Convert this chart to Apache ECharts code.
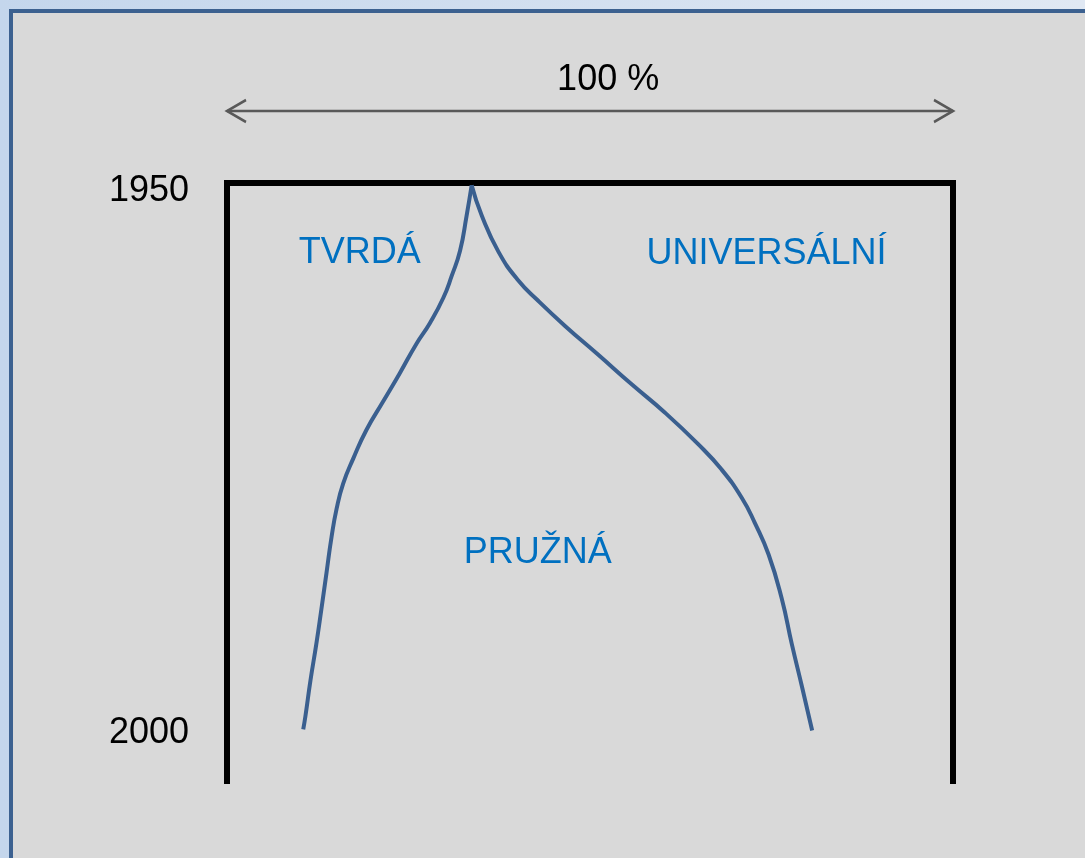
<!DOCTYPE html>
<html>
<head>
<meta charset="utf-8">
<title>Tvrdá / pružná / universální</title>
<script src="https://cdn.jsdelivr.net/npm/echarts/dist/echarts.min.js"></script>
<style>
  html, body {
    margin: 0;
    padding: 0;
    width: 1085px;
    height: 858px;
    overflow: hidden;
    background: linear-gradient(to right, #c4d6ec, #e0e8f3);
  }
  .frame {
    position: absolute;
    left: 9px;
    top: 9px;
    width: 1100px;
    height: 880px;
    background: #d9d9d9;
    border-left: 4px solid #3c6190;
    border-top: 4px solid #3c6190;
  }
  #chart {
    position: absolute;
    left: 0;
    top: 0;
    width: 1085px;
    height: 858px;
  }
</style>
</head>
<body>
<div class="frame"></div>
<div id="chart"></div>
<script>
// hranice tvrdá / pružná (podíl v %, rok)
const leftPct = [33.7, 33.0, 32.1, 30.95, 29.8, 27.96, 26.1, 23.8, 21.5, 19.2, 17.4, 16.0, 15.1, 14.4, 13.7, 13.0, 12.3, 11.5, 10.8, 10.5]
const leftYear = [1950.2, 1953.0, 1956.2, 1958.5, 1960.5, 1962.8, 1964.7, 1967.4, 1970.0, 1972.6, 1975.2, 1977.5, 1979.8, 1982.4, 1985.7, 1989.0, 1992.2, 1995.5, 1998.8, 2000.0]

// hranice pružná / universální
const rightPct = [33.7, 35.1, 37.4, 40.1, 42.9, 46.6, 51.1, 55.7, 60.3, 64.9, 68.1, 70.9, 72.7, 74.6, 76.4, 77.8, 79.2, 80.6]
const rightYear = [1950.2, 1953.0, 1956.3, 1958.9, 1960.8, 1963.1, 1965.7, 1968.4, 1971.0, 1973.9, 1976.2, 1978.8, 1981.1, 1984.0, 1988.0, 1992.2, 1996.1, 2000.1]

// rám 0–100 %
const framePct = [0, 0, 100, 100]
const frameYear = [2005, 1950, 1950, 2005]

// šipka 100 %
const arrowPct = [0, 100]
const arrowYear = [1943.4, 1943.4]

// popisky
const labelNames = ['100 %', 'TVRDÁ', 'UNIVERSÁLNÍ', 'PRUŽNÁ']
const labelPct = [52.5, 18.3, 74.3, 42.8]
const labelYear = [1940.6, 1956.4, 1956.5, 1983.9]
const labelColors = ['#000000', '#0070c0', '#0070c0', '#0070c0']

const yearTicks = [1950, 2000]

const font = 'Arial, "Liberation Sans", sans-serif'

let myChart = echarts.init(document.getElementById('chart'))

const pairs = (xs, ys) => xs.map((x, i) => [x, ys[i]])

const option = {
  animation: false,
  backgroundColor: 'transparent',
  grid: {
    left: 227,
    right: 132,
    top: 41,
    bottom: 74
  },
  xAxis: {
    type: 'value',
    min: 0,
    max: 100,
    show: false
  },
  yAxis: {
    type: 'value',
    inverse: true,
    min: 1937,
    max: 2005,
    axisLine: { show: false },
    axisTick: { show: false },
    splitLine: { show: false },
    axisLabel: {
      customValues: yearTicks,
      margin: 38,
      color: '#000',
      fontSize: 36,
      fontFamily: font,
      formatter: function (v) {
        if (yearTicks.indexOf(v) < 0) return ''
        return v === 1950 ? '{lo|' + v + '}' : '{n|' + v + '}'
      },
      rich: {
        lo: { fontSize: 36, fontFamily: font, color: '#000', padding: [16, 0, 0, 0] },
        n: { fontSize: 36, fontFamily: font, color: '#000', padding: [8, 0, 0, 0] }
      }
    }
  },
  series: [
    {
      name: 'rám',
      type: 'line',
      silent: true,
      clip: false,
      symbol: 'none',
      lineStyle: { color: '#000', width: 6, join: 'miter' },
      data: pairs(framePct, frameYear)
    },
    {
      name: 'šipka',
      type: 'line',
      silent: true,
      clip: false,
      lineStyle: { color: '#595959', width: 2.5 },
      itemStyle: { color: 'rgba(0,0,0,0)', borderColor: '#595959', borderWidth: 2.5 },
      data: [
        {
          value: [arrowPct[0], arrowYear[0]],
          symbol: 'path://M19,0L0,11L19,22',
          symbolSize: [19, 22],
          symbolOffset: [9.5, 0]
        },
        {
          value: [arrowPct[1], arrowYear[1]],
          symbol: 'path://M0,0L19,11L0,22',
          symbolSize: [19, 22],
          symbolOffset: [-9.5, 0]
        }
      ]
    },
    {
      name: 'tvrdá',
      type: 'line',
      silent: true,
      clip: false,
      smooth: 0.5,
      symbol: 'none',
      lineStyle: { color: '#3a5f8f', width: 4 },
      data: pairs(leftPct, leftYear)
    },
    {
      name: 'universální',
      type: 'line',
      silent: true,
      clip: false,
      smooth: 0.5,
      symbol: 'none',
      lineStyle: { color: '#3a5f8f', width: 4 },
      data: pairs(rightPct, rightYear)
    },
    {
      name: 'popisky',
      type: 'scatter',
      silent: true,
      clip: false,
      symbolSize: 1,
      itemStyle: { color: 'rgba(0,0,0,0)', opacity: 1 },
      label: {
        show: true,
        position: 'inside',
        fontSize: 36,
        fontFamily: font,
        formatter: p => p.name
      },
      data: labelNames.map((n, i) => ({
        name: n,
        value: [labelPct[i], labelYear[i]],
        label: { color: labelColors[i] }
      }))
    }
  ]
}
myChart.setOption(option)
</script>
</body>
</html>
